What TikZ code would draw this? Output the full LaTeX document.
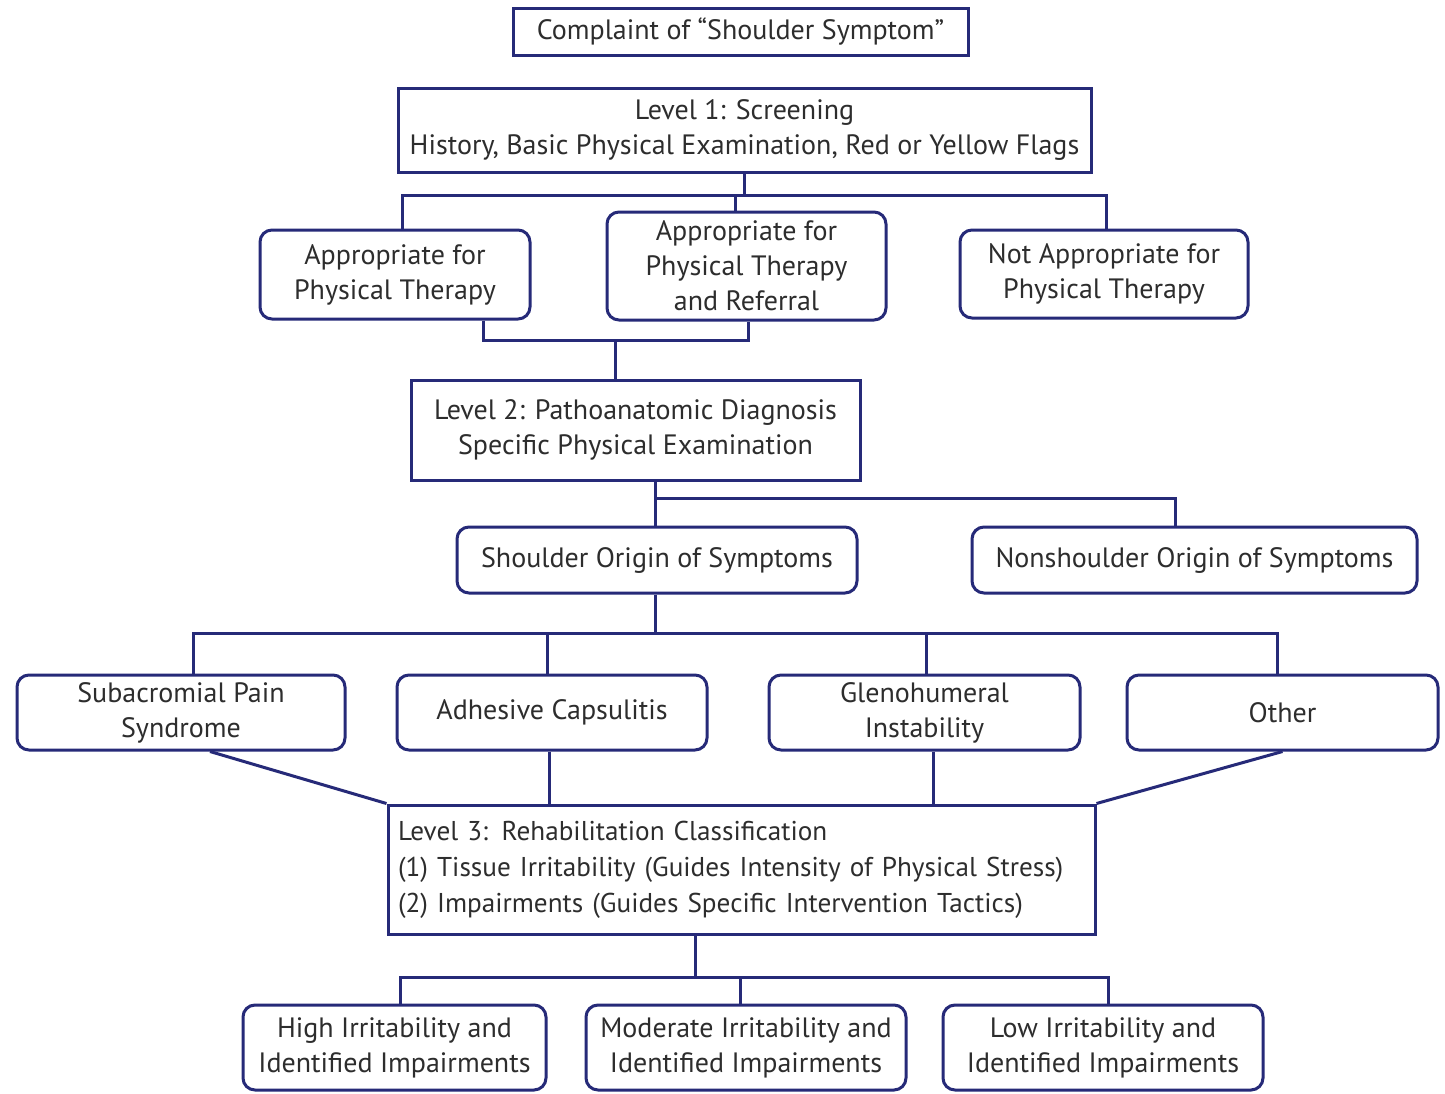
\documentclass[tikz,border=0pt]{standalone}
\usepackage{fontspec}
\setmainfont{PT Sans}
\definecolor{navy}{RGB}{38,42,120}
\definecolor{txt}{RGB}{45,45,45}
\begin{document}
\begin{tikzpicture}[x=0.5pt,y=-0.5pt,
  base/.style={draw=navy,line width=1.5pt,fill=white,text=txt,inner sep=0pt,align=center,
    font=\fontsize{14pt}{17.5pt}\selectfont},
  sqbox/.style={base},
  rbox/.style={base,rounded corners=6pt},
  conn/.style={draw=navy,line width=1.5pt}]
\useasboundingbox[fill=white] (0,0) rectangle (1445,1093);

% nodes
\node[sqbox,minimum width=227.5pt,minimum height=23.5pt] (comp) at (740.5,31.5) {Complaint of “Shoulder Symptom”};
\node[sqbox,minimum width=346.5pt,minimum height=42pt] (l1) at (744.5,130) {Level 1: Screening\\History, Basic Physical Examination, Red or Yellow Flags};
\node[rbox,minimum width=135pt,minimum height=44.5pt] (apt) at (395,274.5) {Appropriate for\\Physical Therapy};
\node[rbox,minimum width=139.5pt,minimum height=54pt] (aptr) at (746.5,266) {Appropriate for\\Physical Therapy\\and Referral};
\node[rbox,minimum width=144pt,minimum height=44pt] (napt) at (1104,274) {Not Appropriate for\\Physical Therapy};
\node[sqbox,minimum width=224.5pt,minimum height=50pt] (l2) at (635.5,430) {Level 2: Pathoanatomic Diagnosis\\Specific Physical Examination};
\node[rbox,minimum width=200pt,minimum height=33pt] (sho) at (657,560) {Shoulder Origin of Symptoms};
\node[rbox,minimum width=222.5pt,minimum height=33pt] (nsho) at (1194.5,560) {Nonshoulder Origin of Symptoms};
\node[rbox,minimum width=164pt,minimum height=37.5pt] (sub) at (181,712.5) {Subacromial Pain\\Syndrome};
\node[rbox,minimum width=155pt,minimum height=37.5pt] (adh) at (552,712.5) {Adhesive Capsulitis};
\node[rbox,minimum width=155.5pt,minimum height=37.5pt] (gle) at (924.5,712.5) {Glenohumeral\\Instability};
\node[rbox,minimum width=155.5pt,minimum height=37.5pt] (oth) at (1282.5,712.5) {Other};
\node[sqbox,minimum width=353.5pt,minimum height=64.5pt,align=left,text width=343.5pt,inner xsep=5pt,
  font=\fontsize{13.6pt}{18pt}\selectfont] (l3) at (741.5,869.5)
  {Level 3: Rehabilitation Classification\\(1) Tissue Irritability (Guides Intensity of Physical Stress)\\(2) Impairments (Guides Specific Intervention Tactics)};
\node[rbox,minimum width=151.5pt,minimum height=42.5pt] (hi) at (394.5,1047.5) {High Irritability and\\Identified Impairments};
\node[rbox,minimum width=160pt,minimum height=42.5pt] (mod) at (746,1047.5) {Moderate Irritability and\\Identified Impairments};
\node[rbox,minimum width=160pt,minimum height=42.5pt] (low) at (1103,1047.5) {Low Irritability and\\Identified Impairments};

% junction coordinates
\coordinate (j1) at (740,195);
\coordinate (j2) at (615,340);
\coordinate (j3) at (655,498);
\coordinate (j4) at (655,633);
\coordinate (j5) at (695,977);

% level 1 branches
\draw[conn] (l1.south) -- (l1.south |- j1);
\draw[conn] ([xshift=3.5pt]apt.north) |- (j1) -| ([xshift=1pt]napt.north);
\draw[conn] ([xshift=-5.75pt]aptr.north) -- ([xshift=-5.75pt]aptr.north |- j1);
% to level 2
\draw[conn] ([xshift=44pt]apt.south) |- ([xshift=0.75pt]aptr.south |- j2) -- ([xshift=0.75pt]aptr.south);
\draw[conn] (j2) -- (j2 |- l2.north);
% level 2 branches
\draw[conn] ([xshift=-1pt]sho.north) -- ([xshift=-1pt]sho.north |- l2.south);
\draw[conn] (j3) -| ([xshift=-9.75pt]nsho.north);
% shoulder branches
\draw[conn] ([xshift=-1pt]sho.south) -- (j4);
\draw[conn] ([xshift=6pt]sub.north) |- (j4) -| ([xshift=-2.75pt]oth.north);
\draw[conn] ([xshift=-2.5pt]adh.north) -- ([xshift=-2.5pt]adh.north |- j4);
\draw[conn] ([xshift=0.75pt]gle.north) -- ([xshift=0.75pt]gle.north |- j4);
% into level 3
\draw[conn] ([xshift=14.5pt]sub.south) -- (l3.north west);
\draw[conn] ([xshift=-1.5pt]adh.south) -- ([xshift=-1.5pt]adh.south |- l3.north);
\draw[conn] ([xshift=4.25pt]gle.south) -- ([xshift=4.25pt]gle.south |- l3.north);
\draw[conn] (oth.south) -- (l3.north east);
% level 3 branches
\draw[conn] ([xshift=-23.25pt]l3.south) -- (j5);
\draw[conn] ([xshift=2.75pt]hi.north) |- (j5) -| ([xshift=2.5pt]low.north);
\draw[conn] ([xshift=-3pt]mod.north) -- ([xshift=-3pt]mod.north |- j5);
\end{tikzpicture}
\end{document}
